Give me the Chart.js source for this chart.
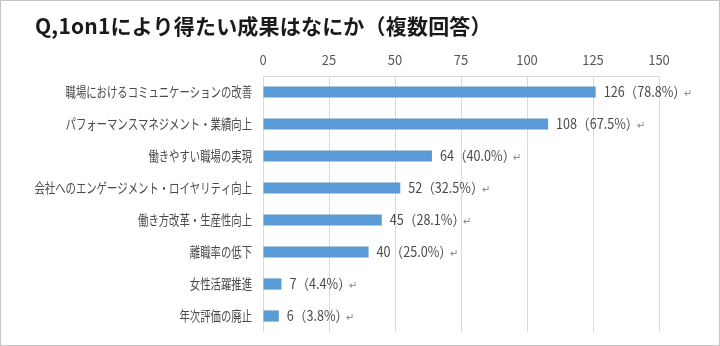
<!DOCTYPE html>
<html lang="ja">
<head>
    <meta charset="UTF-8">
    <title>1on1により得たい成果</title>
    <script src="https://cdn.jsdelivr.net/npm/chart.js"></script>
    <style>
        * { margin: 0; padding: 0; box-sizing: border-box; }
        body { width: 720px; height: 346px; background: #fff; overflow: hidden; }
        .frame {
            position: relative;
            width: 720px;
            height: 346px;
            border: 1px solid #c4c4c4;
        }
        .title {
            position: absolute;
            left: 34px;
            top: 9px;
            font-family: 'Noto Sans CJK JP', sans-serif;
            font-weight: 700;
            font-size: 21px;
            letter-spacing: 0.2px;
            color: #1a1a1a;
            white-space: nowrap;
        }
        canvas { display: block; }
    </style>
</head>
<body>
    <div class="frame">
        <canvas id="chart" width="718" height="344"></canvas>
        <div class="title">Q,1on1により得たい成果はなにか（複数回答）</div>
    </div>

    <script>
        // data
        var categories = [
            '職場におけるコミュニケーションの改善',
            'パフォーマンスマネジメント・業績向上',
            '働きやすい職場の実現',
            '会社へのエンゲージメント・ロイヤリティ向上',
            '働き方改革・生産性向上',
            '離職率の低下',
            '女性活躍推進',
            '年次評価の廃止'
        ];
        var counts = [126, 108, 64, 52, 45, 40, 7, 6];
        var percents = ['78.8%', '67.5%', '40.0%', '32.5%', '28.1%', '25.0%', '4.4%', '3.8%'];
        var tickValues = [0, 25, 50, 75, 100, 125, 150];

        var textGray = '#595959';
        var font = "'Noto Sans CJK JP', sans-serif";

        // category labels and value labels, drawn condensed like the original font
        var labelPlugin = {
            id: 'labels',
            afterDatasetsDraw: function (chart) {
                var ctx = chart.ctx;
                var x = chart.scales.x;
                var y = chart.scales.y;
                ctx.save();
                ctx.textBaseline = 'middle';
                categories.forEach(function (name, i) {
                    var cy = y.getPixelForValue(i);
                    // category name
                    ctx.save();
                    ctx.translate(x.left - 11, cy);
                    ctx.scale(0.74, 1);
                    ctx.font = '14px ' + font;
                    ctx.fillStyle = '#4a4a4a';
                    ctx.textAlign = 'right';
                    ctx.fillText(name, 0, 0);
                    ctx.restore();

                    // value label with the return mark after it
                    var vx = x.getPixelForValue(counts[i]) + 8;
                    var txt = counts[i] + '（' + percents[i] + '）';
                    ctx.save();
                    ctx.translate(vx, cy);
                    ctx.scale(0.9, 1);
                    ctx.font = '14px ' + font;
                    ctx.fillStyle = '#4a4a4a';
                    ctx.textAlign = 'left';
                    ctx.fillText(txt, 0, 0);
                    var w = ctx.measureText(txt).width;
                    ctx.font = '11px ' + font;
                    ctx.fillStyle = '#8c8c8c';
                    ctx.fillText('↵', w - 2, 1);
                    ctx.restore();
                });
                ctx.restore();
            }
        };

        new Chart(document.getElementById('chart'), {
            type: 'bar',
            data: {
                labels: categories,
                datasets: [{
                    data: counts,
                    backgroundColor: '#5b9bd5',
                    barPercentage: 0.35,
                    categoryPercentage: 1
                }]
            },
            options: {
                indexAxis: 'y',
                responsive: false,
                animation: false,
                layout: { padding: { left: 262, right: 60, top: 0, bottom: 13 } },
                plugins: {
                    legend: { display: false },
                    tooltip: { enabled: false }
                },
                scales: {
                    x: {
                        position: 'top',
                        min: 0,
                        max: 150,
                        afterBuildTicks: function (scale) {
                            scale.ticks = tickValues.map(function (v) { return { value: v }; });
                        },
                        afterFit: function (scale) { scale.height = 75; },
                        grid: { color: '#d9d9d9', drawTicks: false },
                        border: { color: '#d9d9d9' },
                        ticks: {
                            padding: 8,
                            color: textGray,
                            font: { family: font, size: 13 }
                        }
                    },
                    y: {
                        display: false
                    }
                }
            },
            plugins: [labelPlugin]
        });
    </script>
</body>
</html>
